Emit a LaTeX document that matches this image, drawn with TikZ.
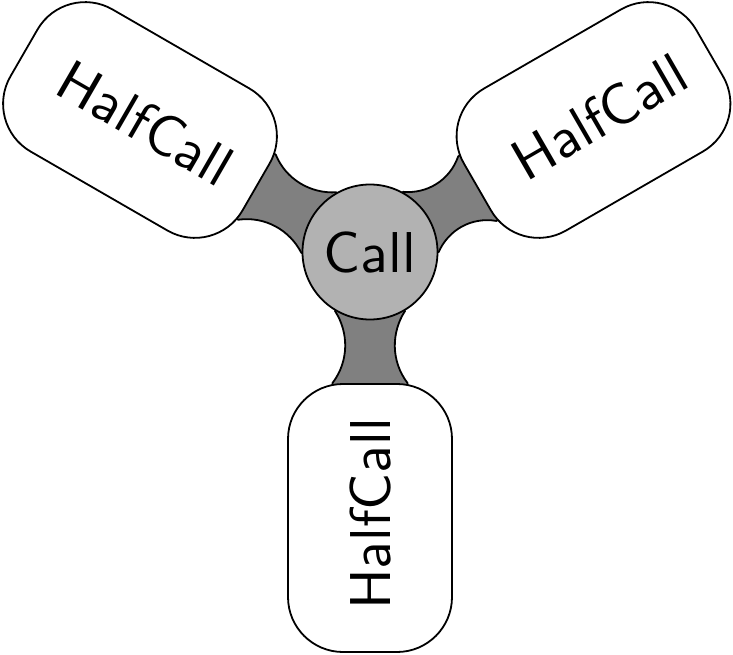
\documentclass[tikz,border=0pt]{standalone}
\usepackage{fontspec}
\newfontfamily\hcfont{lmsans10-regular.otf}
\usetikzlibrary{backgrounds}
\tikzset{
  box/.style={draw=black, line width=1.8pt, fill=white, rounded corners=55pt,
    minimum width=268pt, minimum height=164pt, inner sep=0pt,
    font=\fontsize{57.6pt}{60pt}\selectfont\hcfont},
  hub/.style={circle, draw=black, line width=1.8pt, fill=black!30,
    minimum size=135pt, inner sep=0pt,
    font=\fontsize{57.6pt}{60pt}\selectfont\hcfont},
  neck/.style={draw=black, fill=black!50, line width=1.8pt, line join=round}
}
\newcommand\drawneck[2]{%
  \begin{scope}[shift={(C.center)}, rotate=#1]
    \path[neck] (40,-20) -- (59,-35)
      .. controls ({59+0.3*(#2-59)},-21) and ({59+0.7*(#2-59)},-21) .. (#2,-37.5)
      -- ({#2+10},-38) -- ({#2+10},38) -- (#2,37.5)
      .. controls ({59+0.7*(#2-59)},21) and ({59+0.3*(#2-59)},21) .. (59,35)
      -- (40,20) -- cycle;
  \end{scope}}
\begin{document}
\begin{tikzpicture}[x=1pt,y=1pt]
\useasboundingbox (0,0) rectangle (733,654);
\node[hub] (C) at (370,402) {Call};
\node[box, rotate=-30] (TL) at (140,534) {\hspace*{13pt}HalfCall};
\node[box, rotate=30] (TR) at (593.5,534) {\hspace*{13pt}HalfCall};
\node[box, rotate=90] (B) at (370,136) {\hspace*{8pt}HalfCall};
\begin{pgfonlayer}{background}
  \drawneck{150.15}{130.2}
  \drawneck{30.56}{124.6}
  \drawneck{-90}{131}
\end{pgfonlayer}
\end{tikzpicture}
\end{document}
